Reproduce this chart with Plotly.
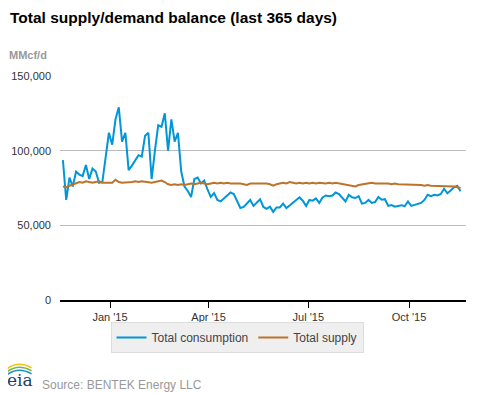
import pandas as pd
import plotly.graph_objects as go

# Data: 3-day sampling, starting 2014-11-19 (last 365 days)
start_date = "2014-11-19"
step_days = 3
consumption = [
    93700, 67000, 82000, 76000, 86000, 84000, 83000, 90400, 81000, 88000,
    86000, 78500, 79000, 94000, 112000, 104000, 121000, 129000, 106000, 112000,
    87000, 90000, 94000, 97000, 96000, 110000, 112000, 81000, 100000, 117000,
    116000, 125000, 100000, 121000, 106000, 112000, 86000, 76000, 73000, 69000,
    81000, 82000, 78000, 80000, 74000, 69000, 71600, 67000, 66000, 68000,
    69500, 72000, 71000, 66000, 61600, 62300, 65000, 67000, 63000, 65500,
    67500, 62300, 61000, 62500, 59000, 62000, 62000, 64500, 61600, 63300,
    65400, 67000, 68800, 66500, 63000, 67000, 66500, 68000, 65000, 68700,
    70000, 69500, 70000, 72000, 71000, 68300, 66000, 70500, 68800, 68300,
    69500, 64500, 65000, 67000, 65000, 65600, 69000, 67200, 67500, 63000,
    63600, 62500, 62800, 63500, 62800, 66000, 63000, 63600, 64500, 65000,
    67000, 70500, 69500, 70500, 70000, 71000, 74500, 71500, 73300, 75500,
    76500, 72800,
]
supply = [
    76000, 75500, 76500, 77500, 78500, 79000, 78500, 79500, 79000, 78500,
    79000, 79500, 78500, 78500, 78000, 78500, 80500, 79000, 78500, 78500,
    79000, 79000, 79500, 79000, 79500, 79000, 79000, 78500, 79000, 79500,
    80000, 79000, 77500, 77000, 77500, 77000, 77500, 77000, 77500, 78000,
    77500, 78000, 78500, 78000, 77500, 78000, 78500, 78000, 78500, 78000,
    78500, 78000, 78000, 78500, 78000, 77500, 77000, 78000, 78000, 78500,
    78000, 78500, 78000, 77500, 76500, 77500, 78000, 78500, 78000, 79000,
    78500, 78000, 78500, 78000, 78500, 78000, 78500, 78000, 78500, 78000,
    78000, 78500, 78000, 78500, 78000, 78000, 77500, 77000, 76500, 76000,
    77000, 77500, 78000, 78000, 78500, 78000, 78000, 78500, 78000, 78000,
    77500, 78000, 77500, 77500, 77000, 77500, 77000, 77500, 77000, 77000,
    76500, 77000, 76500, 76500, 76000, 76500, 76000, 76000, 76500, 76000,
    75500, 75000,
]
dates = pd.date_range(start_date, periods=len(consumption), freq=f"{step_days}D")

tick_vals = ["2015-01-01", "2015-04-01", "2015-07-01", "2015-10-01"]
tick_text = ["Jan '15", "Apr '15", "Jul '15", "Oct '15"]
y_ticks = [0, 50000, 100000, 150000]

fig = go.Figure()
fig.add_trace(go.Scatter(x=dates, y=consumption, mode="lines", name="Total consumption",
                         line=dict(color="#0096d7", width=2)))
fig.add_trace(go.Scatter(x=dates, y=supply, mode="lines", name="Total supply",
                         line=dict(color="#bd732a", width=2)))

# the page body adds an 8px offset; figure is sized to fill the rest of the window
fig.update_layout(
    width=469, height=385,
    margin=dict(l=52, r=11, t=68, b=93, autoexpand=False),
    paper_bgcolor="white", plot_bgcolor="white",
    font=dict(family="Liberation Sans, Arial, sans-serif", size=11, color="#333"),
    showlegend=True,
    legend=dict(orientation="h", x=0.436, y=-0.098, xanchor="center", yanchor="top",
                bgcolor="#efefef", bordercolor="#dddddd", borderwidth=1,
                font=dict(size=12, color="#444"), itemwidth=30, tracegroupgap=0),
    xaxis=dict(type="date", range=["2014-11-16 08:00", "2015-11-22"],
               tickvals=tick_vals, ticktext=tick_text, showgrid=False,
               showline=True, linecolor="#000", linewidth=1.5,
               ticks="outside", ticklen=6, tickcolor="#000", automargin=False,
               tickfont=dict(size=11, color="#333"), zeroline=False),
    yaxis=dict(range=[0, 150000], tickvals=y_ticks, tickformat=",d",
               showgrid=True, gridcolor="#bbbbbb", gridwidth=1, automargin=False,
               zeroline=False, showline=False, ticks="", ticklabelstandoff=8,
               tickfont=dict(size=11, color="#333")),
)

fig.add_annotation(text="<b>Total supply/demand balance (last 365 days)</b>",
                   xref="paper", yref="paper", x=-0.128, y=1.259,
                   xanchor="left", yanchor="middle", showarrow=False,
                   font=dict(size=15.5, color="#000"))
fig.add_annotation(text="<b>MMcf/d</b>", xref="paper", yref="paper",
                   x=-0.130, y=1.092, xanchor="left", yanchor="middle",
                   showarrow=False, font=dict(size=11, color="#999"))
fig.add_annotation(text="Source: BENTEK Energy LLC", xref="paper", yref="paper",
                   x=-0.049, y=-0.38, xanchor="left", yanchor="middle",
                   showarrow=False, font=dict(size=12, color="#999"))
fig.add_annotation(text="eia", xref="paper", yref="paper",
                   x=-0.136, y=-0.356, xanchor="left", yanchor="middle",
                   showarrow=False,
                   font=dict(family="DejaVu Serif, serif", size=17, color="#1b3f6b"))

# simple logo arcs
for col, dy in [("#f2c318", 0), ("#7ab648", 3), ("#1f8fce", 6)]:
    fig.add_shape(type="path", xref="paper", yref="paper",
                  xsizemode="pixel", ysizemode="pixel",
                  xanchor=-0.134, yanchor=-0.285,
                  path=f"M 0 {-6 - dy} Q 12 {4 - dy} 26 {-4 - dy}",
                  line=dict(color=col, width=1.6))

fig.write_html("out.html")
